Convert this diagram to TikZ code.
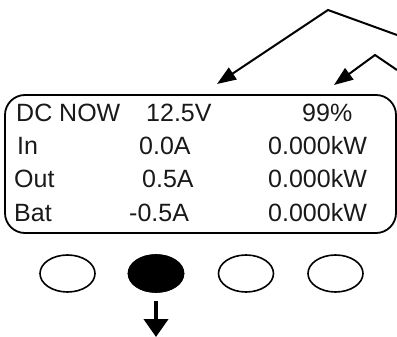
\documentclass[tikz,border=0pt]{standalone}
\usepackage{fontspec}
\setmainfont{Liberation Sans}
\usetikzlibrary{arrows.meta,shapes.geometric}
\begin{document}
\begin{tikzpicture}[
                x=1pt, y=-1pt,
                every node/.style={font=\fontsize{25}{29}\selectfont, inner sep=0pt},
                screen/.style={rectangle, draw=black, line width=1.8pt, rounded corners=20pt, minimum width=391pt, minimum height=138pt},
                readout/.style={anchor=base west, text=black!90},
                button/.style={ellipse, draw=black, line width=1.6pt, minimum width=55pt, minimum height=37pt},
                pointer/.style={-{Triangle[length=19pt,width=14pt]}, line width=2pt, draw=black},
                pressarrow/.style={-{Triangle[length=18pt,width=24pt]}, line width=4pt, draw=black}
            ]
                \useasboundingbox (0,0) rectangle (397,337);
                % Display frame
                \node[screen] (display) at (200.5,164) {};
                
                % Display readings
                \node[readout] (mode)  at (16,122) {DC NOW};
                \node[readout] (volt)  at (146,122) {12.5V};
                \node[readout] (soc)   at (302,122) {99\%};
                \node[readout] (inlbl) at (17,155) {In};
                \node[readout] (inamp) at (139,155) {0.0A};
                \node[readout] (inkw)  at (268,155) {0.000kW};
                \node[readout] (outlbl) at (14,188) {Out};
                \node[readout] (outamp) at (142,188) {0.5A};
                \node[readout] (outkw)  at (268,188) {0.000kW};
                \node[readout] (batlbl) at (14,222) {Bat};
                \node[readout] (batamp) at (129,222) {-0.5A};
                \node[readout] (batkw)  at (268,222) {0.000kW};
                
                % Buttons
                \foreach \i/\x in {1/67.5,2/156,3/246,4/335.5} {
                    \node[button] (btn\i) at (\x,273.5) {};
                }
                \node[button, fill=black] at (btn2) {};
                
                % Leader lines to the readings
                \coordinate (lead1) at (397,35);
                \coordinate (bend1) at (328,10);
                \coordinate (tip1)  at (217,84);
                \coordinate (lead2) at (397,70);
                \coordinate (bend2) at (375,55);
                \coordinate (tip2)  at (334,85);
                \draw[pointer] (lead1) -- (bend1) -- (tip1);
                \draw[pointer] (lead2) -- (bend2) -- (tip2);
                
                % Press direction
                \coordinate (press) at (156,337);
                \draw[pressarrow, shorten <=8pt] (btn2.south) -- (press);
            \end{tikzpicture}
\end{document}
